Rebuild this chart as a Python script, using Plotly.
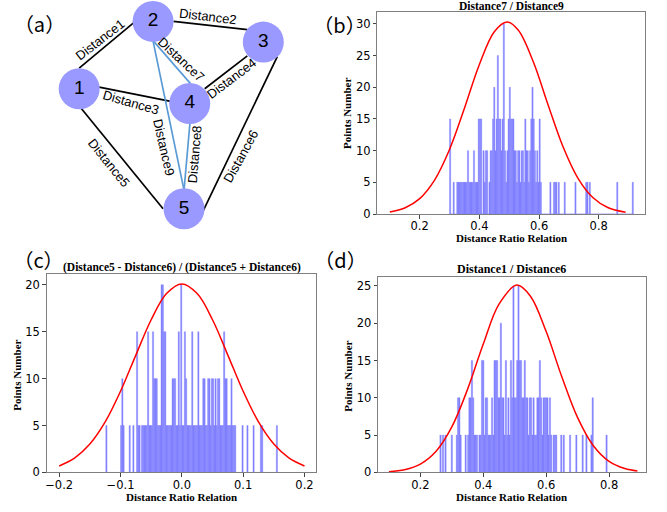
import numpy as np
import plotly.graph_objects as go

W, H = 667, 512

# ---------------- data ----------------
# (b) Distance7 / Distance9 histogram
B_START, B_BIN = 0.300, 0.004
B_COUNTS = [15, 0, 0, 5, 0, 0, 5, 5, 5, 5,
            5, 5, 5, 5, 5, 10, 5, 5, 5, 5,
            10, 5, 5, 5, 15, 15, 15, 0, 10, 5,
            10, 10, 0, 5, 10, 10, 15, 20, 10, 15,
            25, 15, 15, 10, 15, 30, 10, 5, 10, 15,
            20, 15, 15, 15, 10, 10, 5, 10, 10, 5,
            10, 10, 5, 15, 10, 10, 5, 10, 15, 20,
            15, 10, 5, 10, 5, 15, 5, 0, 0, 0,
            0, 0, 0, 0, 5, 0, 0, 5, 5, 5,
            0, 5, 0, 0, 0, 0, 5, 0, 0, 0,
            0, 0, 0, 0, 0, 5, 0, 0, 0, 0,
            0, 0, 0, 0, 5, 5, 0, 5, 0, 0,
            0, 0, 0, 0, 0, 0, 0, 0, 0, 0,
            0, 0, 0, 0, 0, 0, 0, 0, 0, 0,
            5, 0, 0, 0, 0, 0, 0, 0, 0, 0,
            0, 0, 0, 5]
B_CURVE_X = [0.10, 0.15, 0.20, 0.25, 0.30, 0.35, 0.40, 0.45, 0.492, 0.53, 0.58,
             0.63, 0.68, 0.73, 0.78, 0.83, 0.89]
B_CURVE_Y = [0.32, 0.95, 2.43, 5.36, 10.18, 16.69, 23.59, 28.76, 30.3, 29.03, 24.10,
             17.25, 10.65, 5.67, 2.60, 1.03, 0.28]

# (c) (Distance5 - Distance6) / (Distance5 + Distance6) histogram
C_START, C_BIN = -0.124, 0.002
C_COUNTS = [5, 0, 0, 0, 0, 0, 0, 0, 0, 0,
            0, 0, 5, 10, 5, 0, 0, 0, 0, 5,
            0, 0, 5, 0, 0, 15, 5, 5, 0, 5,
            5, 5, 5, 5, 15, 5, 5, 5, 15, 10,
            10, 10, 5, 5, 5, 20, 20, 15, 15, 5,
            5, 5, 5, 5, 10, 10, 10, 5, 5, 15,
            5, 20, 5, 5, 15, 10, 5, 5, 5, 5,
            15, 5, 5, 5, 5, 15, 5, 5, 5, 10,
            10, 5, 5, 10, 10, 5, 10, 10, 5, 10,
            5, 10, 10, 5, 5, 5, 15, 10, 10, 5,
            5, 5, 10, 5, 5, 5, 0, 0, 0, 0,
            0, 5, 0, 0, 0, 5, 0, 0, 0, 0,
            5, 0, 0, 0, 0, 0, 5, 5, 0, 0,
            0, 0, 0, 0, 0, 0, 0, 0, 0, 5]
C_CURVE_X = [-0.2, -0.175, -0.15, -0.125, -0.1, -0.075, -0.05, -0.025, 0.0,
             0.025, 0.05, 0.075, 0.1, 0.125, 0.15, 0.175, 0.2]
C_CURVE_Y = [0.69, 1.52, 3.02, 5.38, 8.65, 12.51, 16.28, 19.07, 20.1,
             19.07, 16.28, 12.51, 8.65, 5.38, 3.02, 1.52, 0.69]

# (d) Distance1 / Distance6 histogram
D_START, D_BIN = 0.262, 0.004
D_COUNTS = [5, 0, 5, 0, 5, 0, 0, 0, 0, 5,
            0, 0, 0, 5, 10, 10, 5, 0, 0, 0,
            5, 0, 5, 10, 10, 15, 10, 5, 5, 5,
            0, 5, 5, 15, 15, 5, 10, 10, 5, 5,
            5, 10, 5, 15, 15, 15, 10, 10, 20, 10,
            10, 5, 15, 5, 10, 5, 15, 10, 25, 10,
            10, 15, 25, 15, 15, 10, 10, 15, 10, 10,
            5, 10, 10, 5, 10, 5, 5, 10, 10, 15,
            10, 5, 10, 10, 10, 10, 5, 10, 5, 0,
            5, 5, 5, 0, 0, 0, 5, 0, 5, 0,
            0, 0, 0, 5, 0, 0, 0, 0, 5, 0,
            0, 0, 0, 5, 0, 0, 5, 0, 0, 0,
            5, 10, 0, 0, 0, 0, 0, 0, 0, 0,
            0, 0, 5]
D_CURVE_X = [0.10, 0.15, 0.20, 0.25, 0.30, 0.35, 0.40, 0.45, 0.507, 0.55, 0.60,
             0.65, 0.70, 0.75, 0.80, 0.85, 0.89]
D_CURVE_Y = [0.11, 0.37, 1.12, 2.84, 6.10, 11.13, 17.20, 22.55, 25.1, 23.61, 18.87,
             12.78, 7.34, 3.57, 1.48, 0.52, 0.20]

# (a) diagram
NODE_LABELS = ["1", "2", "3", "4", "5"]
NODE_X = [78.3, 152.3, 262.7, 189.0, 183.3]
NODE_Y = [90.0, 21.7, 42.7, 105.0, 211.7]
EDGE_NAMES = ["Distance1", "Distance2", "Distance3", "Distance4", "Distance5",
              "Distance6", "Distance7", "Distance8", "Distance9"]
EDGE_X0 = [78.3, 172.7, 98.3, 246.7, 79.0, 276.7, 152.7, 189.3, 152.3]
EDGE_Y0 = [69.0, 21.7, 88.3, 56.7, 108.3, 57.3, 41.7, 124.0, 41.7]
EDGE_X1 = [133.3, 246.7, 170.0, 204.0, 162.3, 202.7, 190.0, 183.3, 183.3]
EDGE_Y1 = [22.7, 30.0, 102.7, 90.0, 211.7, 213.3, 85.0, 192.7, 192.7]
EDGE_COLOR = ["black"] * 6 + ["#5b9bd5"] * 3
LABEL_X = [99.5, 207.7, 130.5, 231.0, 107.7, 240.0, 180.3, 194.0, 162.7]
LABEL_Y = [40.0, 16.7, 104.0, 80.0, 165.0, 158.5, 60.7, 156.7, 150.0]
LABEL_ANGLE = [-38, 7, 16, -37, 51, -61, 43, -85, 77]

# ---------------- figure ----------------
fig = go.Figure()

BAR_COLOR = "#8080ff"   # blue at 50 % alpha on white


def add_hist(start, binw, counts, cx, cy, xa, ya):
    counts = np.array(counts, dtype=float)
    centers = start + binw * (np.arange(len(counts)) + 0.5)
    fig.add_trace(go.Bar(x=centers, y=counts, width=binw, marker_color=BAR_COLOR,
                         marker_line=dict(width=0.4, color=BAR_COLOR),
                         xaxis=xa, yaxis=ya, showlegend=False))
    fig.add_trace(go.Scatter(x=cx, y=cy, mode="lines", line=dict(color="red", width=1.5,
                             shape="spline", smoothing=1.0), xaxis=xa, yaxis=ya,
                             showlegend=False))


add_hist(B_START, B_BIN, B_COUNTS, B_CURVE_X, B_CURVE_Y, "x", "y")
add_hist(C_START, C_BIN, C_COUNTS, C_CURVE_X, C_CURVE_Y, "x2", "y2")
add_hist(D_START, D_BIN, D_COUNTS, D_CURVE_X, D_CURVE_Y, "x3", "y3")

# diagram edges
for i in range(len(EDGE_NAMES)):
    fig.add_trace(go.Scatter(x=[EDGE_X0[i], EDGE_X1[i]], y=[EDGE_Y0[i], EDGE_Y1[i]],
                             mode="lines", line=dict(color=EDGE_COLOR[i], width=1.7),
                             xaxis="x4", yaxis="y4", showlegend=False))
# nodes
fig.add_trace(go.Scatter(x=NODE_X, y=NODE_Y, mode="markers+text", text=NODE_LABELS,
                         textposition="middle center",
                         textfont=dict(family="Liberation Sans, Arial", size=19, color="black"),
                         marker=dict(size=41, color="#9999ff", line=dict(width=0)),
                         xaxis="x4", yaxis="y4", showlegend=False))

ann = []
for i in range(len(EDGE_NAMES)):
    ann.append(dict(x=LABEL_X[i], y=LABEL_Y[i], xref="x4", yref="y4", text=EDGE_NAMES[i],
                    showarrow=False, textangle=LABEL_ANGLE[i], xanchor="center",
                    yanchor="middle",
                    font=dict(family="Liberation Sans, Arial", size=13, color="black")))

SERIF = "Liberation Serif, Times New Roman, serif"


def ptext(px, py, text, size=11, angle=0, family=SERIF, bold=True, width=None):
    t = "<b>%s</b>" % text if bold else text
    d = dict(x=px / W, y=1 - py / H, xref="paper", yref="paper", text=t,
             showarrow=False, textangle=angle, xanchor="center", yanchor="middle",
             font=dict(family=family, size=size, color="black"))
    if width is not None:
        d["width"] = width
        d["align"] = "center"
    ann.append(d)


# panel letters (box trimmed to the visible glyphs of the full-width brackets)
CJK = "Noto Sans CJK SC, sans-serif"
ptext(39, 24, "（a）", 20, family=CJK, bold=False, width=31)
ptext(339, 25, "（b）", 20, family=CJK, bold=False, width=31)
ptext(38, 263, "（c）", 20, family=CJK, bold=False, width=31)
ptext(340, 263, "（d）", 20, family=CJK, bold=False, width=31)

# titles
ptext(511, 6, "Distance7 / Distance9", 11.5)
ptext(181, 271.5, "(Distance5 - Distance6) / (Distance5 + Distance6)", 11.5)
ptext(511.5, 272.5, "Distance1 / Distance6", 12)
# axis titles
ptext(511.5, 241, "Distance Ratio Relation")
ptext(181, 504, "Distance Ratio Relation")
ptext(511.5, 503.5, "Distance Ratio Relation")
ptext(347, 115, "Points Number", angle=-90)
ptext(16, 380, "Points Number", angle=-90)
ptext(347.5, 381, "Points Number", angle=-90)

AX_COLOR = "#7f7f7f"
TICKFONT = dict(family="DejaVu Sans", size=11.5, color="black")


def xa(domain, rng, tickvals, ticktext, anchor):
    return dict(domain=domain, range=rng, anchor=anchor, tickvals=tickvals, ticktext=ticktext,
                showline=True, linecolor=AX_COLOR, linewidth=1, mirror=True, ticks="outside",
                ticklen=3.5, tickcolor="#444", showgrid=False, zeroline=False,
                tickfont=TICKFONT, fixedrange=True, ticklabelstandoff=-2)


def ya(domain, rng, tickvals, anchor):
    return dict(domain=domain, range=rng, anchor=anchor, tickvals=tickvals,
                ticktext=[str(v) for v in tickvals],
                showline=True, linecolor=AX_COLOR, linewidth=1, mirror=True, ticks="outside",
                ticklen=3.5, tickcolor="#444", showgrid=False, zeroline=False,
                tickfont=TICKFONT, fixedrange=True)


fig.update_layout(
    width=W, height=H, margin=dict(l=0, r=0, t=0, b=0),
    paper_bgcolor="white", plot_bgcolor="rgba(0,0,0,0)",
    bargap=0, barmode="overlay", showlegend=False,
    xaxis=xa([377 / W, 645 / W], [0.0585, 0.955], [0.2, 0.4, 0.6, 0.8],
             ["0.2", "0.4", "0.6", "0.8"], "y"),
    yaxis=ya([1 - 217 / H, 1 - 12 / H], [0, 31.9], [0, 5, 10, 15, 20, 25, 30], "x"),
    xaxis2=xa([45.7 / W, 315 / W], [-0.2205, 0.218], [-0.2, -0.1, 0.0, 0.1, 0.2],
              ["\u22120.2", "\u22120.1", "0.0", "0.1", "0.2"], "y2"),
    yaxis2=ya([1 - 479 / H, 1 - 278.3 / H], [0, 21.1], [0, 5, 10, 15, 20], "x2"),
    xaxis3=xa([377.7 / W, 646 / W], [0.0657, 0.9175], [0.2, 0.4, 0.6, 0.8],
              ["0.2", "0.4", "0.6", "0.8"], "y3"),
    yaxis3=ya([1 - 479 / H, 1 - 280.7 / H], [0, 26.2], [0, 5, 10, 15, 20, 25], "x3"),
    xaxis4=dict(domain=[0, 320 / W], range=[0, 320], anchor="y4", visible=False,
                fixedrange=True),
    yaxis4=dict(domain=[1 - 250 / H, 1], range=[250, 0], anchor="x4", visible=False,
                fixedrange=True),
    annotations=ann,
)

fig.write_html("out.html",
               config={"displayModeBar": False, "staticPlot": True},
               post_script="document.body.style.margin='0';"
                           "document.body.style.padding='0';"
                           "document.body.style.overflow='hidden';")
